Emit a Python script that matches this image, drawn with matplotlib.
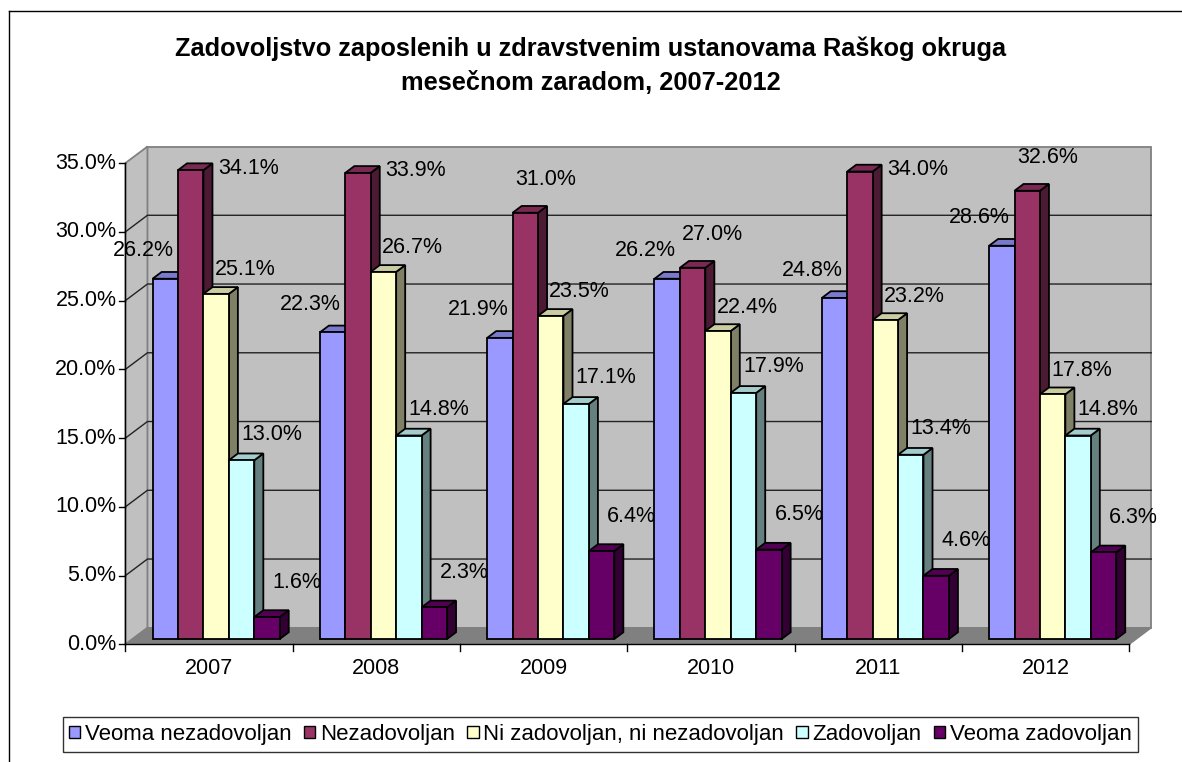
import matplotlib
matplotlib.use('Agg')
import matplotlib.pyplot as plt
from matplotlib.patches import Polygon, Patch
from matplotlib.lines import Line2D

# ---------------- data ----------------
years = ['2007', '2008', '2009', '2010', '2011', '2012']
series_names = ['Veoma nezadovoljan', 'Nezadovoljan', 'Ni zadovoljan, ni nezadovoljan',
                'Zadovoljan', 'Veoma zadovoljan']
veoma_nezadovoljan = [26.2, 22.3, 21.9, 26.2, 24.8, 28.6]
nezadovoljan = [34.1, 33.9, 31.0, 27.0, 34.0, 32.6]
ni_zadovoljan_ni_nezadovoljan = [25.1, 26.7, 23.5, 22.4, 23.2, 17.8]
zadovoljan = [13.0, 14.8, 17.1, 17.9, 13.4, 14.8]
veoma_zadovoljan = [1.6, 2.3, 6.4, 6.5, 4.6, 6.3]
y_ticks = [0, 5, 10, 15, 20, 25, 30, 35]
title_text = 'Zadovoljstvo zaposlenih u zdravstvenim ustanovama Raškog okruga\nmesečnom zaradom, 2007-2012'

series = [veoma_nezadovoljan, nezadovoljan, ni_zadovoljan_ni_nezadovoljan,
          zadovoljan, veoma_zadovoljan]
colors = ['#9999FF', '#993366', '#FFFFCC', '#CCFFFF', '#660066']

# ---------------- style / geometry ----------------
plt.rcParams['font.family'] = ['Liberation Sans', 'DejaVu Sans']
W, H = 1182, 762
fig = plt.figure(figsize=(W / 100, H / 100), dpi=100)
fig.patch.set_facecolor('white')

X0 = 132.5    # pixel x of category edge 0 (bar plane)
CW = 167.3    # pixels per category
Y0 = 639.0    # pixel y (from top) of value 0 (bar plane)
PPV = 13.75   # pixels per percent
ax = fig.add_axes([0, 0, 1, 1])
ax.set_xlim(-X0 / CW, (W - X0) / CW)
ax.set_ylim(-(H - Y0) / PPV, Y0 / PPV)
ax.axis('off')

DX, DY = 22.0 / CW, 16.5 / PPV       # full depth vector (data units)
D_PLANE = 0.32                        # depth of bars' front plane
D_BACK_BAR = 0.73                     # depth of bars' back plane
n_cat = len(years)
ymax = y_ticks[-1]
group_pad = 0.12
bw = (1 - 2 * group_pad) / len(series)


def P(x, v, d):
    return (x + (d - D_PLANE) * DX, v + (d - D_PLANE) * DY)


def shade(c, f):
    c = matplotlib.colors.to_rgb(c)
    return tuple(min(1, ch * f) for ch in c)


# walls and floor
wall_c = '#C0C0C0'
ax.add_patch(Polygon([P(0, 0, 1), P(n_cat, 0, 1), P(n_cat, ymax, 1), P(0, ymax, 1)],
                     closed=True, fc=wall_c, ec='#808080', lw=1.3, zorder=1))
ax.add_patch(Polygon([P(0, 0, 0), P(0, 0, 1), P(0, ymax, 1), P(0, ymax, 0)],
                     closed=True, fc=wall_c, ec='#808080', lw=1.3, zorder=1))
ax.add_patch(Polygon([P(0, 0, 0), P(n_cat, 0, 0), P(n_cat, 0, 1), P(0, 0, 1)],
                     closed=True, fc='#808080', ec='#808080', lw=1.0, zorder=1.5))

# gridlines
for t in y_ticks[1:-1]:
    pts = [P(0, t, 0), P(0, t, 1), P(n_cat, t, 1)]
    ax.plot([p[0] for p in pts], [p[1] for p in pts], color='#222222', lw=1.0, zorder=2)

# y axis
a0, a1 = P(0, 0, 0), P(0, ymax, 0)
ax.plot([a0[0], a1[0]], [a0[1], a1[1]], color='black', lw=1.0, zorder=3)
for t in y_ticks:
    px, py = P(0, t, 0)
    ax.plot([px - 6 / CW, px], [py, py], color='black', lw=1.0, zorder=3)
    ax.text(px - 9 / CW, py, f'{t:.1f}%', ha='right', va='center', fontsize=15.5)

# x axis
b0, b1 = P(0, 0, 0), P(n_cat, 0, 0)
ax.plot([b0[0], b1[0]], [b0[1], b1[1]], color='black', lw=1.0, zorder=30)
for i in range(n_cat + 1):
    px, py = P(i, 0, 0)
    ax.plot([px, px], [py, py - 7 / PPV], color='black', lw=1.0, zorder=30)
for i, yr in enumerate(years):
    px, py = P(i + 0.5, 0, 0)
    ax.text(px, py - 24 / PPV, yr, ha='center', va='center', fontsize=15.5)

# bars
label_off = [(-22, 28), (20, 33), (29, 24), (30, 26), (30, 35)]
for j, (vals, col) in enumerate(zip(series, colors)):
    xc = [i + group_pad + (j + 0.5) * bw for i in range(n_cat)]
    ax.bar(xc, vals, width=bw, color=col, edgecolor='black', linewidth=1.3,
           zorder=11 + 2 * j)
    for x, v in zip(xc, vals):
        xl, xr = x - bw / 2, x + bw / 2
        side = [P(xr, 0, D_PLANE), P(xr, 0, D_BACK_BAR), P(xr, v, D_BACK_BAR), P(xr, v, D_PLANE)]
        top = [P(xl, v, D_PLANE), P(xr, v, D_PLANE), P(xr, v, D_BACK_BAR), P(xl, v, D_BACK_BAR)]
        ax.add_patch(Polygon(side, closed=True, fc=shade(col, 0.5), ec='black', lw=1.3,
                             zorder=10 + 2 * j))
        ax.add_patch(Polygon(top, closed=True, fc=shade(col, 0.8), ec='black', lw=1.3,
                             zorder=10 + 2 * j))
        ox, oy = label_off[j]
        if v + oy / PPV > ymax + 0.55:
            ox, oy = 58, 2
        ax.annotate(f'{v:.1f}%', (x, v), xytext=(ox, oy), textcoords='offset pixels',
                    ha='center', va='center', fontsize=15.5, zorder=40)

# title
ax.text(-X0 / CW + (W / 2) / CW, (Y0 - 66) / PPV, title_text, ha='center', va='center',
        fontsize=18.3, fontweight='bold', linespacing=1.55)

# legend
handles = [Patch(facecolor=c, edgecolor='black', linewidth=1.0) for c in colors]
leg = fig.legend(handles, series_names, loc='center', ncol=5,
                 bbox_to_anchor=(600.5 / W, 1 - 734.5 / H), fontsize=16,
                 frameon=True, fancybox=False, handlelength=0.5, handleheight=0.5,
                 handletextpad=0.22, columnspacing=0.55, borderpad=0.3, borderaxespad=0)
leg.get_frame().set_edgecolor('black')
leg.get_frame().set_linewidth(1.0)

# outer chart border (left and top)
fig.add_artist(Line2D([8.5 / W, 8.5 / W], [0, 1 - 10.5 / H], color='black', lw=1.0))
fig.add_artist(Line2D([8.5 / W, 1], [1 - 10.5 / H, 1 - 10.5 / H], color='black', lw=1.0))

fig.savefig('out.png', dpi=100)
